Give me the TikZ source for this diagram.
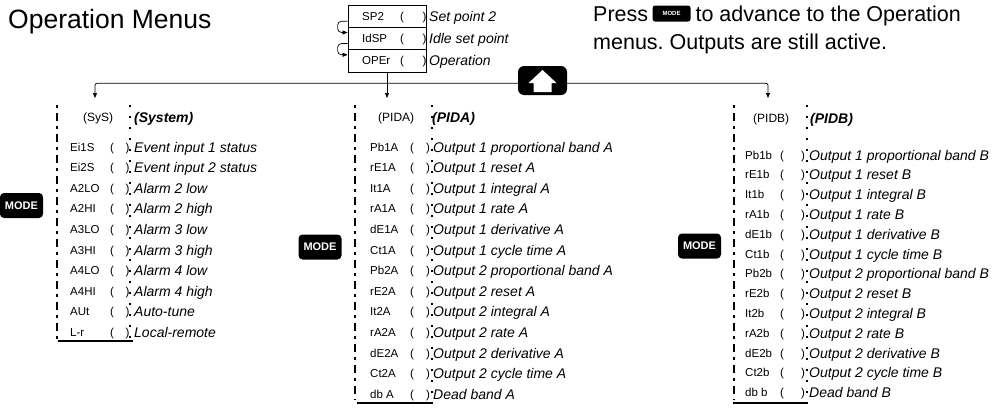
\documentclass[tikz,border=0pt]{standalone}
\usepackage{fontspec}
\setmainfont{Liberation Sans}
\usetikzlibrary{arrows.meta,calc}
\frenchspacing
\begin{document}
\begin{tikzpicture}[x=1pt,y=-1pt,
  code/.style={anchor=base west, inner sep=0pt, font=\fontsize{11.5}{13}\selectfont},
  desc/.style={anchor=base west, inner sep=0pt, font=\itshape\fontsize{14}{16}\selectfont},
  hdr/.style={anchor=base west, inner sep=0pt, font=\bfseries\itshape\fontsize{14}{16}\selectfont},
  hcode/.style={anchor=base west, inner sep=0pt, font=\fontsize{12}{14}\selectfont},
  modebtn/.style={fill=black, rounded corners=4pt, text=white, font=\bfseries\fontsize{11}{12}\selectfont, inner sep=0pt, minimum width=43pt, minimum height=25pt},
  toprow/.style={draw, line width=0.8pt, minimum width=78pt, minimum height=22.3pt, inner sep=0pt},
  arr/.style={-{Triangle[length=5pt,width=4pt]}, line width=0.7pt},
  leftbar/.style={line width=2.2pt, dash pattern=on 3pt off 5pt on 8pt off 5pt},
  rightbar/.style={line width=1.6pt, dash pattern=on 2pt off 9pt},
  endbar/.style={line width=2pt}]
\useasboundingbox (0,0) rectangle (1001,407);

% title and note
\node[anchor=base west, inner sep=0pt, font=\fontsize{26.5}{30}\selectfont] (title) at (8,28) {Operation Menus};
\node[anchor=base west, inner sep=0pt, font=\fontsize{21.5}{26}\selectfont] (press) at (593,21) {Press};
\node[fill=black, rounded corners=2.5pt, text=white, font=\bfseries\fontsize{6}{7}\selectfont, inner sep=0pt, minimum width=38pt, minimum height=16pt, anchor=west] (modeicon) at ($(press.base east)+(4,-7.5)$) {MODE};
\node[anchor=base west, inner sep=0pt, font=\fontsize{21.5}{26}\selectfont] (press2) at ($(press.base east)+(47,0)$) {to advance to the Operation};
\node[anchor=base west, inner sep=0pt, font=\fontsize{21.5}{26}\selectfont] (press3) at (593,49) {menus. Outputs are still active.};

% top box
\node[toprow] (r1) at (387,16.2) {};
\node[toprow] (r2) at (387,38.5) {};
\node[toprow] (r3) at (387,60.8) {};
\node[code] (t1) at (362,20.2) {SP2};
\node[code] (t2) at (362,42.5) {IdSP};
\node[code] (t3) at (362,64.8) {OPEr};
\foreach \k/\yy in {1/20.2,2/42.5,3/64.8}{
  \node[code] (to\k) at (400,\yy) {(};
  \node[code] (tc\k) at (422.5,\yy) {)};
}
\node[desc] (tl1) at (429,21.2) {Set point 2};
\node[desc] (tl2) at (429,43.5) {Idle set point};
\node[desc] (tl3) at (429,65.8) {Operation};
\draw[arr, rounded corners=4pt] ($(r1.west)+(0,5)$) -- ++(-10,0) |- ($(r2.west)+(0,-6)$);
\draw[arr, rounded corners=4pt] ($(r2.west)+(0,5)$) -- ++(-10,0) |- ($(r3.west)+(0,-6)$);

% up button
\node[fill=black, rounded corners=6pt, minimum width=49pt, minimum height=29pt, inner sep=0pt] (up) at (542.5,80.5) {};
\fill[white] ($(up.center)+(0,-10.5)$) -- ($(up.center)+(14,2.5)$) -- ($(up.center)+(9,2.5)$) -- ($(up.center)+(9,11.5)$) -- ($(up.center)+(-9,11.5)$) -- ($(up.center)+(-9,2.5)$) -- ($(up.center)+(-14,2.5)$) -- cycle;

% distribution lines
\coordinate (hl) at (95,83.3);
\coordinate (hr) at (768,83.3);
\coordinate (c1top) at (95,98);
\coordinate (c2top) at (387,98);
\coordinate (c3top) at (768,98);
\draw[arr] (r3.south) -- (c2top);
\draw[arr, rounded corners=2pt] (hl -| up.west) -- (hl) -- (c1top);
\draw[arr, rounded corners=2pt] (hr -| up.east) -- (hr) -- (c3top);

% ---- column 1
\draw[leftbar] (57,105) -- (57,340);
\draw[rightbar] (130,105) -- (130,340);
\draw[endbar] (58,341) -- (133,341);
\node[hcode] (h1) at (83,121) {(SyS)};
\node[hdr] (h1d) at (134,122) {(System)};
\foreach \c/\d [count=\i] in {Ei1S/Event input 1 status, Ei2S/Event input 2 status, A2LO/Alarm 2 low, A2HI/Alarm 2 high, A3LO/Alarm 3 low, A3HI/Alarm 3 high, A4LO/Alarm 4 low, A4HI/Alarm 4 high, AUt/Auto-tune, L-r/Local-remote}{
  \pgfmathsetmacro\yy{147+(\i-1)*20.6}
  \node[code] (a\i) at (70,\yy+4) {\c};
  \node[code] (ao\i) at (110,\yy+4) {(};
  \node[code] (ac\i) at (125.5,\yy+4) {)};
  \node[desc] (ad\i) at (134,\yy+5) {\d};
}
\node[modebtn] (m1) at (21.5,205.5) {MODE};

% ---- column 2
\draw[leftbar] (355,105) -- (355,400);
\draw[rightbar] (432,105) -- (432,400);
\draw[endbar] (357,403) -- (433,403);
\node[hcode] (h2) at (378,121) {(PIDA)};
\node[hdr] (h2d) at (432,122) {(PIDA)};
\foreach \c/\d [count=\i] in {Pb1A/Output 1 proportional band A, rE1A/Output 1 reset A, It1A/Output 1 integral A, rA1A/Output 1 rate A, dE1A/Output 1 derivative A, Ct1A/Output 1 cycle time A, Pb2A/Output 2 proportional band A, rE2A/Output 2 reset A, It2A/Output 2 integral A, rA2A/Output 2 rate A, dE2A/Output 2 derivative A, Ct2A/Output 2 cycle time A, db A/Dead band A}{
  \pgfmathsetmacro\yy{147+(\i-1)*20.6}
  \node[code] (b\i) at (370,\yy+4) {\c};
  \node[code] (bo\i) at (410,\yy+4) {(};
  \node[code] (bc\i) at (426,\yy+4) {)};
  \node[desc] (bd\i) at (433,\yy+5) {\d};
}
\node[modebtn] (m2) at (320,247) {MODE};

% ---- column 3
\draw[leftbar] (734,105) -- (734,400);
\draw[rightbar] (807,105) -- (807,400);
\draw[endbar] (733,403) -- (808,403);
\node[hcode] (h3) at (753,122) {(PIDB)};
\node[hdr] (h3d) at (810,123) {(PIDB)};
\foreach \c/\d [count=\i] in {Pb1b/Output 1 proportional band B, rE1b/Output 1 reset B, It1b/Output 1 integral B, rA1b/Output 1 rate B, dE1b/Output 1 derivative B, Ct1b/Output 1 cycle time B, Pb2b/Output 2 proportional band B, rE2b/Output 2 reset B, It2b/Output 2 integral B, rA2b/Output 2 rate B, dE2b/Output 2 derivative B, Ct2b/Output 2 cycle time B, db b/Dead band B}{
  \pgfmathsetmacro\yy{155+(\i-1)*19.8}
  \node[code] (c\i) at (745,\yy+4) {\c};
  \node[code] (co\i) at (780,\yy+4) {(};
  \node[code] (cc\i) at (801,\yy+4) {)};
  \node[desc] (cd\i) at (809,\yy+5) {\d};
}
\node[modebtn] (m3) at (699.5,246) {MODE};
\end{tikzpicture}
\end{document}
